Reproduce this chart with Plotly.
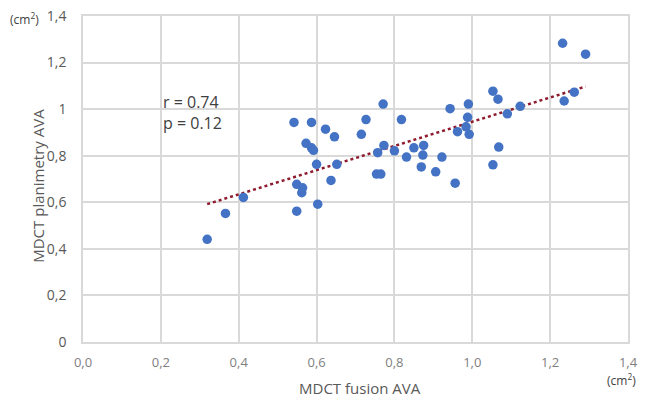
import numpy as np
import plotly.graph_objects as go

# Data
fusion_ava = [0.319, 0.366, 0.412, 0.542, 0.549, 0.564, 0.562, 0.549, 0.587, 0.573,
              0.587, 0.592, 0.600, 0.603, 0.623, 0.646, 0.652, 0.637, 0.715, 0.727,
              0.771, 0.773, 0.757, 0.754, 0.765, 0.800, 0.818, 0.831, 0.850, 0.875,
              0.873, 0.869, 0.906, 0.922, 0.943, 0.956, 0.962, 0.990, 0.988, 0.984,
              0.992, 1.053, 1.066, 1.090, 1.123, 1.068, 1.053, 1.232, 1.291, 1.262,
              1.236]
planimetry_ava = [0.441, 0.552, 0.621, 0.943, 0.677, 0.662, 0.641, 0.562, 0.943, 0.853,
                  0.834, 0.823, 0.763, 0.592, 0.914, 0.881, 0.763, 0.694, 0.892, 0.955,
                  1.022, 0.844, 0.813, 0.721, 0.721, 0.821, 0.955, 0.794, 0.834, 0.844,
                  0.803, 0.752, 0.731, 0.794, 1.002, 0.682, 0.903, 1.022, 0.965, 0.924,
                  0.892, 1.077, 1.043, 0.980, 1.012, 0.837, 0.761, 1.283, 1.236, 1.073,
                  1.035]

x_tick_vals = [0.0, 0.2, 0.4, 0.6, 0.8, 1.0, 1.2, 1.4]
x_tick_text = ["0,0", "0,2", "0,4", "0,6", "0,8", "1,0", "1,2", "1,4"]
y_tick_vals = [0.0, 0.2, 0.4, 0.6, 0.8, 1.0, 1.2, 1.4]
y_tick_text = ["0", "0,2", "0,4", "0,6", "0,8", "1", "1,2", "1,4"]

stats_text = "r = 0.74<br>p = 0.12"

# Linear trend line (least squares) over the data range
xa = np.array(fusion_ava)
ya = np.array(planimetry_ava)
slope, intercept = np.polyfit(xa, ya, 1)
trend_x = np.array([xa.min(), xa.max()])
trend_y = slope * trend_x + intercept

FONT = "Open Sans"
GREY = "#595959"

fig = go.Figure()
fig.add_trace(go.Scatter(
    x=trend_x, y=trend_y, mode="lines",
    line=dict(color="#8E1B2E", width=2.5, dash="dot"),
    hoverinfo="skip", showlegend=False))
fig.add_trace(go.Scatter(
    x=fusion_ava, y=planimetry_ava, mode="markers",
    marker=dict(color="#4472C4", size=9.5, line=dict(width=0)),
    showlegend=False))

fig.update_layout(
    width=630, height=390,
    margin=dict(l=75, r=10, t=8, b=56, autoexpand=False),
    plot_bgcolor="white", paper_bgcolor="white",
    font=dict(family=FONT, color=GREY, size=13),
    xaxis=dict(range=[0, 1.4], tickvals=x_tick_vals, ticktext=x_tick_text,
               showgrid=True, gridcolor="#D9D9D9", gridwidth=1.5, automargin=False,
               zeroline=False, showline=True, linecolor="#D9D9D9", linewidth=1.5,
               mirror=True, ticks="", ticklabelstandoff=8, ticklabeloverflow="allow",
               tickfont=dict(family=FONT, size=13, color="#7F7F7F")),
    yaxis=dict(range=[0, 1.4], tickvals=y_tick_vals, ticktext=y_tick_text,
               showgrid=True, gridcolor="#D9D9D9", gridwidth=1.5, automargin=False,
               zeroline=False, showline=True, linecolor="#D9D9D9", linewidth=1.5,
               mirror=True, ticks="", ticklabelstandoff=12, ticklabeloverflow="allow",
               tickfont=dict(family=FONT, size=14, color=GREY)),
)

fig.add_annotation(x=-0.106, y=0.48, xref="paper", yref="paper", text="MDCT planimetry AVA",
                   textangle=-90, showarrow=False, font=dict(size=15, color=GREY))
fig.add_annotation(x=0.508, y=-0.142, xref="paper", yref="paper", text="MDCT fusion AVA",
                   showarrow=False, yanchor="middle", font=dict(size=15, color=GREY))
fig.add_annotation(x=-0.1376, y=0.99, xref="paper", yref="paper", text="(cm<sup>2</sup>)",
                   showarrow=False, xanchor="left", yanchor="middle",
                   font=dict(size=12, color="#404040"))
fig.add_annotation(x=1.018, y=-0.118, xref="paper", yref="paper", text="(cm<sup>2</sup>)",
                   showarrow=False, xanchor="right", yanchor="middle",
                   font=dict(size=12, color="#404040"))
fig.add_annotation(x=0.2, y=1.085, xref="x", yref="y", text=stats_text,
                   showarrow=False, xanchor="left", yanchor="top", align="left",
                   font=dict(size=16, color="#404040"))

fig.write_html("out.html")
